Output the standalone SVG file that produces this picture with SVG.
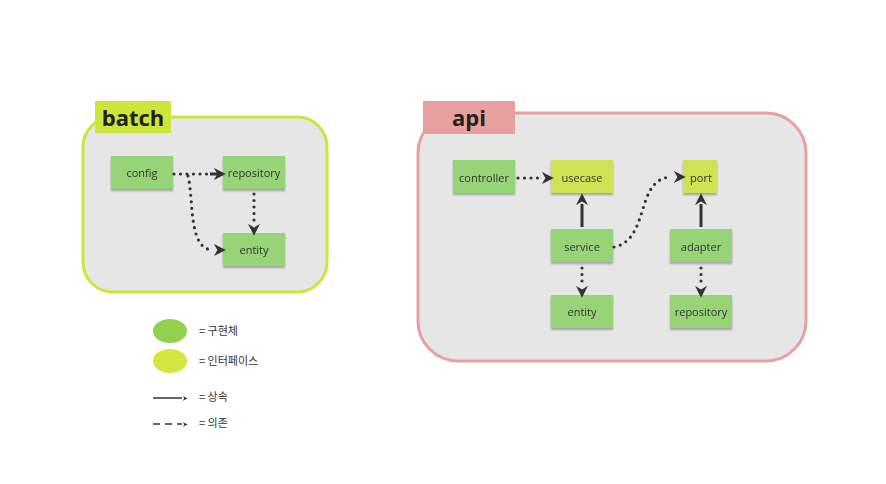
<svg xmlns="http://www.w3.org/2000/svg" width="886" height="484" viewBox="0 0 886 484">
<style>
text{font-family:"Open Sans","Liberation Sans",sans-serif;fill:#333}
.n{font-size:11px;text-anchor:middle;dominant-baseline:central}
.g{fill:#96d477}.y{fill:#d0e252}
.d{fill:none;stroke:#333;stroke-width:3.2;stroke-linecap:round;stroke-dasharray:0 6.5}
.s{fill:none;stroke:#333;stroke-width:3}
.t{font-size:22px;font-weight:bold;fill:#222}
.l{font-size:11px;font-family:"Noto Sans CJK KR","Liberation Sans",sans-serif}
</style>
<defs>
<filter id="sh" x="-10%" y="-10%" width="120%" height="140%"><feDropShadow dx="0" dy="2" stdDeviation="1.2" flood-opacity="0.3"/></filter>
<marker id="a" viewBox="0 0 10 10" refX="8" refY="5" markerWidth="4" markerHeight="4" orient="auto" markerUnits="userSpaceOnUse" style="overflow:visible"><path d="M0,0 L10,5 L0,10 L3,5z" fill="#333" transform="scale(1.2)"/></marker>
<marker id="b" viewBox="0 0 10 10" refX="6" refY="5" markerWidth="12" markerHeight="12" orient="auto" markerUnits="userSpaceOnUse"><path d="M0,0 L10,5 L0,10 L3,5z" fill="#333"/></marker>
</defs>
<rect width="886" height="484" fill="#fff"/>
<g id="batch">
<rect x="83" y="117" width="244" height="175" rx="30" fill="#e6e6e6" stroke="#cde53a" stroke-width="3"/>
<rect x="95" y="101" width="76" height="32" fill="#cde53a"/>
<text x="133" y="126" class="t" text-anchor="middle">batch</text>
</g>
<g id="api">
<rect x="418" y="113" width="388" height="248" rx="40" fill="#e6e6e6" stroke="#e8a09e" stroke-width="3"/>
<rect x="423" y="101" width="92" height="33" fill="#e8a09e"/>
<text x="469" y="126" class="t" text-anchor="middle">api</text>
</g>
<g id="b-config" filter="url(#sh)"><rect x="111" y="156" width="62" height="33" class="g"/><text x="142" y="172" class="n">config</text></g>
<g id="b-repository" filter="url(#sh)"><rect x="223" y="156" width="62" height="33" class="g"/><text x="254" y="172" class="n">repository</text></g>
<g id="b-entity" filter="url(#sh)"><rect x="223" y="233" width="62" height="33" class="g"/><text x="254" y="249" class="n">entity</text></g>
<g id="a-controller" filter="url(#sh)"><rect x="453" y="160" width="62" height="33" class="g"/><text x="484" y="177" class="n">controller</text></g>
<g id="a-usecase" filter="url(#sh)"><rect x="551" y="160" width="62" height="33" class="y"/><text x="582" y="177" class="n">usecase</text></g>
<g id="a-port" filter="url(#sh)"><rect x="683" y="160" width="34" height="33" class="y"/><text x="701" y="177" class="n">port</text></g>
<g id="a-service" filter="url(#sh)"><rect x="551" y="229" width="62" height="33" class="g"/><text x="582" y="246" class="n">service</text></g>
<g id="a-adapter" filter="url(#sh)"><rect x="670" y="229" width="62" height="33" class="g"/><text x="701" y="246" class="n">adapter</text></g>
<g id="a-entity" filter="url(#sh)"><rect x="551" y="295" width="62" height="33" class="g"/><text x="582" y="311" class="n">entity</text></g>
<g id="a-repository" filter="url(#sh)"><rect x="670" y="295" width="62" height="33" class="g"/><text x="701" y="311" class="n">repository</text></g>
<g id="connectors">
<path d="M174,174 L212,174" class="d"/><path d="M210,174 L221,174" class="s" stroke-width="0" marker-end="url(#b)"/>
<path d="M188,176 C194,200 188,248 212,250" class="d"/><path d="M210,250 L221,250" stroke="none" marker-end="url(#b)"/>
<path d="M254,194 L254,224" class="d"/><path d="M254,222 L254,231" stroke="none" marker-end="url(#b)"/>
<path d="M518,178 L540,178" class="d"/><path d="M538,178 L549,178" stroke="none" marker-end="url(#b)"/>
<path d="M614,247 C650,240 635,180 670,177" class="d"/><path d="M669,177 L681,177" stroke="none" marker-end="url(#b)"/>
<path d="M582,268 L582,285" class="d"/><path d="M582,284 L582,293" stroke="none" marker-end="url(#b)"/>
<path d="M701,268 L701,285" class="d"/><path d="M701,284 L701,293" stroke="none" marker-end="url(#b)"/>
<path d="M582,227 L582,204" class="s" stroke-width="3.2"/><path d="M582,206 L582,198" stroke="none" marker-end="url(#b)"/>
<path d="M701,227 L701,204" class="s" stroke-width="3.2"/><path d="M701,206 L701,198" stroke="none" marker-end="url(#b)"/>
</g>
<g id="legend">
<ellipse cx="170" cy="331" rx="17" ry="12" fill="#92d050"/>
<ellipse cx="170" cy="361" rx="17" ry="12" fill="#d4e63f"/>
<text x="199" y="335" class="l">= 구현체</text>
<text x="199" y="365" class="l">= 인터페이스</text>
<path d="M153,398 L182,398" stroke="#333" stroke-width="1.5"/><path d="M180,398 L186,398" stroke="none" marker-end="url(#a)"/>
<text x="199" y="401" class="l">= 상속</text>
<path d="M153,424 L182,424" stroke="#333" stroke-width="1.5" stroke-dasharray="7 5"/><path d="M180,424 L186,424" stroke="none" marker-end="url(#a)"/>
<text x="199" y="427" class="l">= 의존</text>
</g>
</svg>
